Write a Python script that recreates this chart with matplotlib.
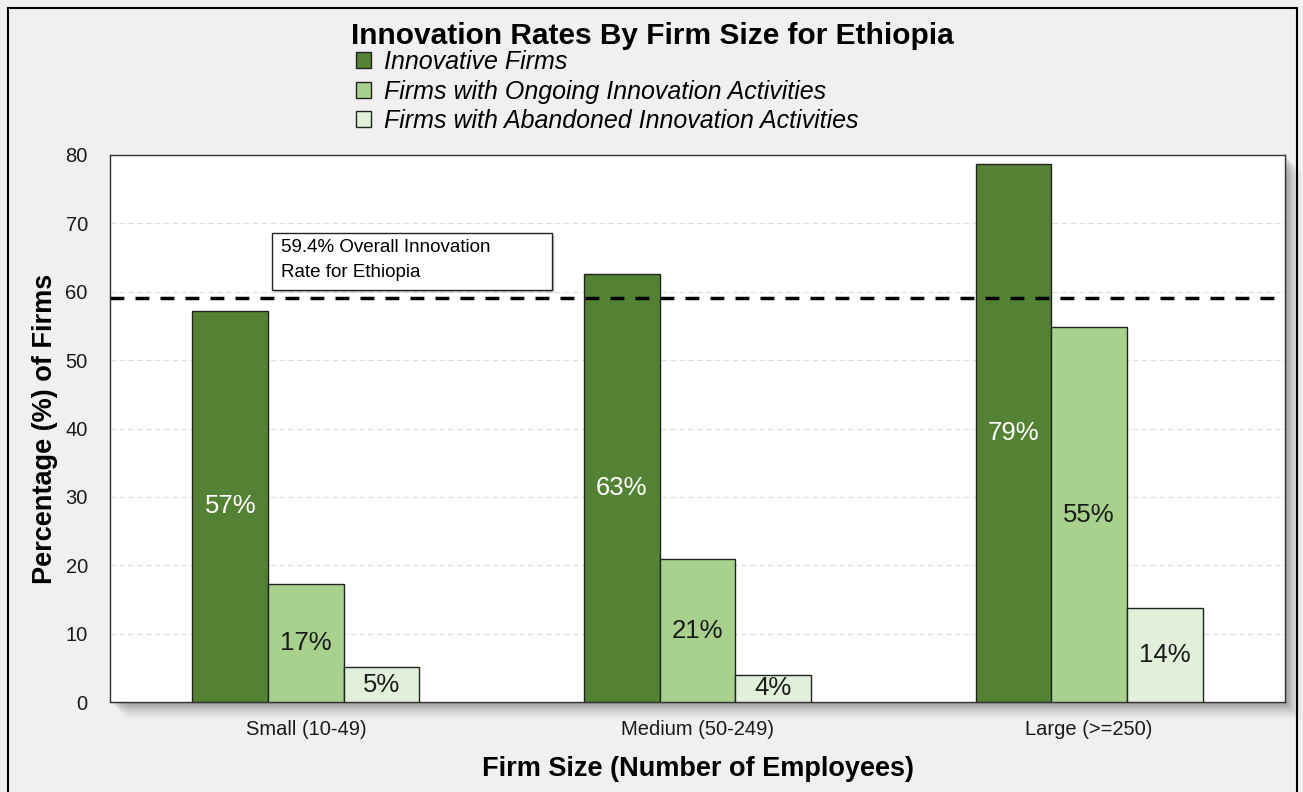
import matplotlib.pyplot as plt
import matplotlib.patches as mpatches
import numpy as np

plt.rcParams['font.family'] = ['Liberation Sans', 'DejaVu Sans']

sizes = ['Small (10-49)', 'Medium (50-249)', 'Large (>=250)']
series = ['Innovative Firms',
          'Firms with Ongoing Innovation Activities',
          'Firms with Abandoned Innovation Activities']
innovative = [57.2, 62.6, 78.7]
ongoing = [17.3, 20.9, 54.8]
abandoned = [5.1, 4.0, 13.7]
overall_rate = 59.4

colors = ['#548235', '#a9d18e', '#e2efda']
label_colors = ['white', '#1a1a1a', '#1a1a1a']

W, H = 1303, 792
fig = plt.figure(figsize=(W / 100, H / 100), dpi=100, facecolor='#f0f0f0')

# plot area in pixels
ax_l, ax_r, ax_t, ax_b = 110, 1285, 155, 702
ax = fig.add_axes([ax_l / W, 1 - ax_b / H, (ax_r - ax_l) / W, (ax_b - ax_t) / H])
ax.set_facecolor('white')

# soft drop shadow under the plot area
for i, a in enumerate([0.09, 0.07, 0.06, 0.05, 0.04, 0.03, 0.025, 0.02, 0.015]):
    off = 2 + i * 2
    fig.patches.append(mpatches.Rectangle(
        ((ax_l + off) / W, 1 - (ax_b + off) / H), (ax_r - ax_l) / W, (ax_b - ax_t) / H,
        transform=fig.transFigure, facecolor='black', alpha=a, edgecolor='none', zorder=-1))

# outer frame
fig.patches.append(mpatches.Rectangle((8 / W, -0.01), (1297 - 8) / W, 1 - 8 / H + 0.01,
                                      transform=fig.transFigure, fill=False,
                                      edgecolor='black', linewidth=1.5, zorder=5))

x = np.arange(len(sizes))
width = 0.193
data = [innovative, ongoing, abandoned]
for k, (vals, name) in enumerate(zip(data, series)):
    pos = x + (k - 1) * width
    ax.bar(pos, vals, width, color=colors[k], edgecolor='#222222', linewidth=1,
           label=name, zorder=3)
    for px, v in zip(pos, vals):
        ax.text(px, v / 2, f'{round(v):d}%', ha='center', va='center',
                fontsize=18.5, color=label_colors[k], zorder=4)

ax.axhline(overall_rate - 0.35, color='black', linestyle=(0, (4, 3.2)), linewidth=2.5, zorder=5)

ax.set_xlim(-0.5, 2.5)
ax.set_ylim(0, 80)
ax.set_yticks(range(0, 81, 10))
ax.set_xticks(x)
ax.set_xticklabels(sizes)
ax.tick_params(axis='both', length=0, labelsize=14.5, colors='#1a1a1a')
ax.tick_params(axis='x', pad=13)
ax.tick_params(axis='y', pad=16)
ax.yaxis.grid(True, color='#dcdcdc', linestyle=(0, (5, 3)), linewidth=0.8, zorder=0)
ax.set_axisbelow(True)
for s in ax.spines.values():
    s.set_color('#333333')
    s.set_linewidth(1)

ax.set_ylabel('Percentage (%) of Firms', fontsize=19.5, fontweight='bold', labelpad=5)
ax.set_xlabel('Firm Size (Number of Employees)', fontsize=19.5, fontweight='bold', labelpad=12)

fig.text(652 / W, 1 - 36 / H, 'Innovation Rates By Firm Size for Ethiopia', ha='center',
         va='center', fontsize=21.5, fontweight='bold')

leg = fig.legend(loc='upper left', bbox_to_anchor=(356 / W, 1 - 50 / H), frameon=False,
                 prop={'style': 'italic', 'size': 18}, handlelength=0.6, handleheight=0.6,
                 handletextpad=0.5, labelspacing=0.22, borderpad=0, borderaxespad=0)

# annotation box for the overall rate, with a small shadow
bx0, bx1, by0, by1 = 272, 552, 233, 290
def to_axes(px, py):
    return (px - ax_l) / (ax_r - ax_l), (ax_b - py) / (ax_b - ax_t)
x0, y0 = to_axes(bx0, by1)
x1, y1 = to_axes(bx1, by0)
for i, a in enumerate([0.25, 0.15, 0.08]):
    dx, dy = (i + 1) / (ax_r - ax_l), (i + 1) / (ax_b - ax_t)
    ax.add_patch(mpatches.Rectangle((x0 + dx, y0 - dy), x1 - x0, y1 - y0, transform=ax.transAxes,
                                    facecolor='black', alpha=a, edgecolor='none', zorder=5.5))
ax.add_patch(mpatches.Rectangle((x0, y0), x1 - x0, y1 - y0, transform=ax.transAxes,
                                facecolor='white', edgecolor='#222222', linewidth=1, zorder=6))
tx, ty = to_axes(281, 247)
ax.text(tx, ty, '59.4% Overall Innovation', transform=ax.transAxes, fontsize=13.5,
        va='center', ha='left', zorder=7)
tx, ty = to_axes(281, 273)
ax.text(tx, ty, 'Rate for Ethiopia', transform=ax.transAxes, fontsize=13.5,
        va='center', ha='left', zorder=7)

fig.savefig('out.png', dpi=100, facecolor=fig.get_facecolor())
